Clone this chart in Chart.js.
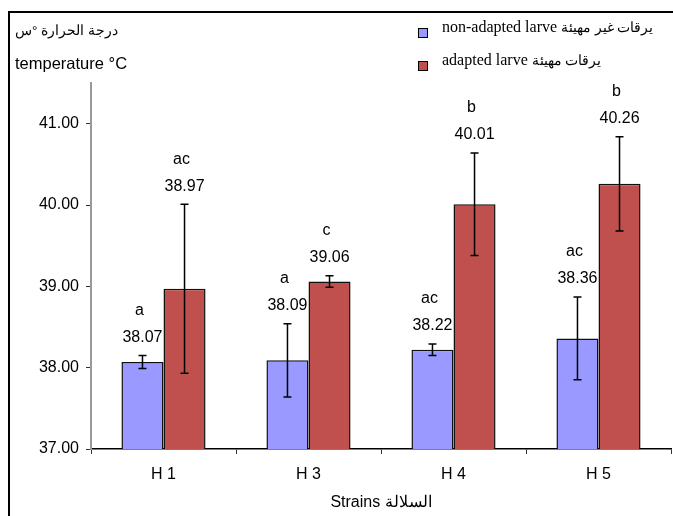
<!DOCTYPE html>
<html>
<head>
<meta charset="utf-8">
<script src="https://cdn.jsdelivr.net/npm/chart.js@4.4.0/dist/chart.umd.min.js"></script>
<style>
  body { margin: 0; width: 673px; height: 516px; overflow: hidden; background: #fff; position: relative; }
  #frame { position: absolute; left: 8px; top: 11px; width: 700px; height: 600px; border: 2px solid #000; }
  canvas { position: absolute; left: 0; top: 0; }
  .ytitle { position: absolute; left: 15px; font: 16.5px "Liberation Sans", Arial, sans-serif; color: #000; white-space: nowrap; }
  .leg { position: absolute; left: 418px; font: 16px "Liberation Serif", "Times New Roman", serif; color: #000; white-space: nowrap; }
  .leg i { position: absolute; left: 0; width: 8px; height: 8px; border: 1px solid #000; }
  .leg span { position: absolute; left: 24px; top: -10px; }
  .leg b { font-weight: normal; font-size: 14px; }
</style>
</head>
<body>
<div id="frame"></div>
<canvas id="tempChart" width="673" height="516"></canvas>
<div class="ytitle" style="top:22px; font-size:13.5px"><span dir="rtl">درجة الحرارة °س</span></div>
<div class="ytitle" style="top:54px">temperature °C</div>
<div class="leg" style="top:28px"><i style="background:#9999FF"></i><span>non-adapted larve <b>يرقات غير مهيئة</b></span></div>
<div class="leg" style="top:61px"><i style="background:#C0504D"></i><span>adapted larve <b>يرقات مهيئة</b></span></div>

<script>
// Données
let strains = ['H 1', 'H 3', 'H 4', 'H 5'];

let nonAdapted = [38.07, 38.09, 38.22, 38.36];
let nonAdaptedErr = [0.08, 0.45, 0.07, 0.51];
let nonAdaptedLetters = ['a', 'a', 'ac', 'ac'];

let adapted = [38.97, 39.06, 40.01, 40.26];
let adaptedErr = [1.04, 0.07, 0.63, 0.58];
let adaptedLetters = ['ac', 'c', 'b', 'b'];

let yTicks = [37, 38, 39, 40, 41];

// Barres d'erreur + valeurs + lettres au-dessus de chaque barre
let errorBarsPlugin = {
  id: 'errorBars',
  afterDatasetsDraw(chart) {
    let ctx = chart.ctx;
    let yScale = chart.scales.y;
    chart.data.datasets.forEach((ds, i) => {
      let meta = chart.getDatasetMeta(i);
      meta.data.forEach((bar, j) => {
        let v = ds.data[j];
        let e = ds.errors[j];
        let yTop = yScale.getPixelForValue(v + e);
        let yBot = yScale.getPixelForValue(v - e);
        ctx.save();
        ctx.strokeStyle = '#000';
        ctx.lineWidth = 1.5;
        ctx.beginPath();
        ctx.moveTo(bar.x, yTop);
        ctx.lineTo(bar.x, yBot);
        ctx.moveTo(bar.x - 4, yTop);
        ctx.lineTo(bar.x + 4, yTop);
        ctx.moveTo(bar.x - 4, yBot);
        ctx.lineTo(bar.x + 4, yBot);
        ctx.stroke();

        ctx.fillStyle = '#000';
        ctx.font = '16px "Liberation Sans", Arial, sans-serif';
        ctx.textAlign = 'center';
        ctx.textBaseline = 'middle';
        ctx.fillText(v.toFixed(2), bar.x, yTop - 18);
        ctx.fillText(ds.letters[j], bar.x - 3, yTop - 45);
        ctx.restore();
      });
    });
  }
};

let ctx = document.getElementById('tempChart').getContext('2d');
let myChart = new Chart(ctx, {
  type: 'bar',
  data: {
    labels: strains,
    datasets: [{
      label: 'non-adapted larve يرقات غير مهيئة',
      data: nonAdapted,
      errors: nonAdaptedErr,
      letters: nonAdaptedLetters,
      backgroundColor: '#9999FF',
      borderColor: '#111',
      borderWidth: 1.5
    }, {
      label: 'adapted larve يرقات مهيئة',
      data: adapted,
      errors: adaptedErr,
      letters: adaptedLetters,
      backgroundColor: '#C0504D',
      borderColor: '#111',
      borderWidth: 1.5
    }]
  },
  options: {
    responsive: false,
    animation: false,
    devicePixelRatio: 1,
    layout: { padding: { left: 0, top: 83, right: 2, bottom: 0 } },
    datasets: {
      bar: { barPercentage: 1, categoryPercentage: 0.58 }
    },
    scales: {
      x: {
        grid: { drawOnChartArea: false, tickLength: 5, color: '#333' },
        border: { color: '#000', width: 1.5 },
        ticks: { color: '#000', font: { size: 16, family: '"Liberation Sans", Arial, sans-serif' }, padding: 11 },
        title: {
          display: true,
          text: 'Strains السلالة',
          color: '#000',
          font: { size: 16, family: '"Liberation Sans", Arial, sans-serif' },
          padding: { top: 4, bottom: 4 }
        },
        afterFit: scale => { scale.height = 67; }
      },
      y: {
        min: 37,
        max: 41.5,
        grid: { drawOnChartArea: false, tickLength: 5, color: '#333' },
        border: { color: '#999', width: 2 },
        ticks: {
          stepSize: 1,
          color: '#000',
          padding: 7,
          font: { size: 16, family: '"Liberation Sans", Arial, sans-serif' },
          callback: v => v.toFixed(2)
        },
        afterBuildTicks: scale => {
          scale.ticks = yTicks.map(v => ({ value: v }));
        },
        afterFit: scale => { scale.width = 91; }
      }
    },
    plugins: {
      legend: { display: false },
      tooltip: { enabled: false }
    }
  },
  plugins: [errorBarsPlugin]
});
</script>
</body>
</html>
